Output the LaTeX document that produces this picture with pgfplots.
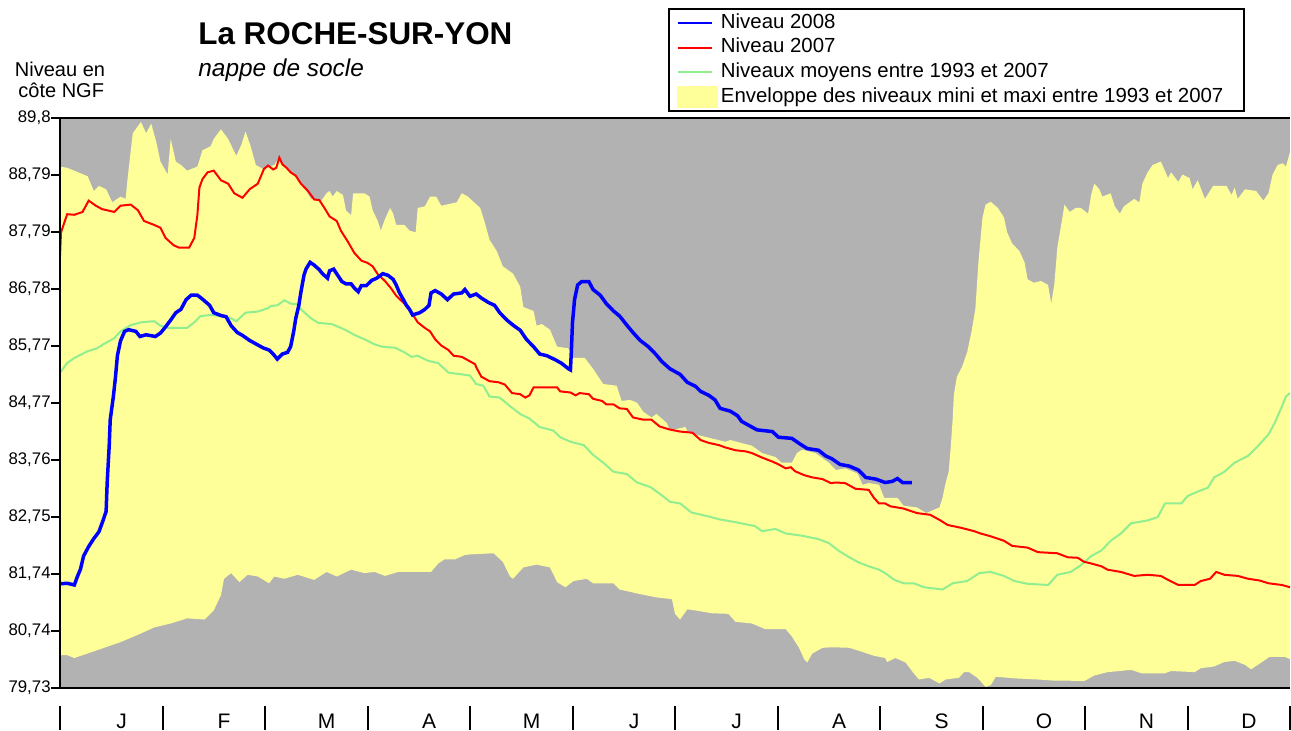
\documentclass[border=0pt]{standalone}
\usepackage{fontspec}
\setmainfont{Liberation Sans}
\usepackage{pgfplots}
\pgfplotsset{compat=1.18}
\usepgfplotslibrary{fillbetween}
\definecolor{fond}{RGB}{178,178,178}
\definecolor{jaune}{RGB}{255,255,153}
\definecolor{vert}{RGB}{144,238,144}

\begin{document}
\begin{tikzpicture}
\begin{axis}[
  scale only axis, width=615pt, height=285pt,
  xmin=0, xmax=12, ymin=79.73, ymax=89.8,
  axis x line*=box, axis y line*=left,
  axis line style={line width=1.25pt},
  axis background/.style={fill=fond},
  axis on top, clip=false,
  tick align=outside, major tick length=4.5pt,
  ytick={79.73,80.737,81.744,82.751,83.758,84.765,85.772,86.779,87.786,88.793,89.8},
  yticklabels={{79,73},{80,74},{81,74},{82,75},{83,76},{84,77},{85,77},{86,78},{87,79},{88,79},{89,8}},
  ytick style={line width=1pt, black},
  yticklabel style={font=\fontsize{8.4}{10}\selectfont, inner xsep=0pt},
  xtick={0.6,1.6,2.6,3.6,4.6,5.6,6.6,7.6,8.6,9.6,10.6,11.6},
  xticklabels={J,F,M,A,M,J,J,A,S,O,N,D},
  xtick style={draw=none},
  xticklabel style={font=\fontsize{10.5}{12}\selectfont, anchor=base, yshift=-16pt},
  legend cell align=left,
  legend style={at={(0.4943,1.0105)}, anchor=south west, draw=black, line width=1pt,
    fill=white, font=\fontsize{10.2}{12}\selectfont, inner xsep=4pt, inner ysep=1pt,
    row sep=0.3pt, nodes={inner sep=1.5pt, text height=7pt, text depth=2pt}},
]
\addlegendimage{blue, line width=1pt}
\addlegendentry{Niveau 2008}
\addlegendimage{red, line width=1pt}
\addlegendentry{Niveau 2007}
\addlegendimage{vert, line width=1pt}
\addlegendentry{Niveaux moyens entre 1993 et 2007}
\addlegendimage{legend image code/.code={\fill[jaune] (0pt,-5pt) rectangle (19.5pt,5pt);}}
\addlegendentry{\makebox[256pt][l]{Enveloppe des niveaux mini et maxi entre 1993 et 2007}}

% enveloppe maxi
\addplot[name path=hi, draw=none, forget plot] coordinates {
(0.00,88.94)(0.07,88.92)(0.27,88.77)(0.33,88.51)(0.38,88.60)(0.45,88.54)(0.51,88.31)(0.59,88.41)
(0.64,88.37)(0.66,88.74)(0.71,89.53)(0.79,89.73)(0.84,89.53)(0.89,89.70)(0.94,89.37)(0.98,89.03)
(1.05,88.80)(1.08,89.43)(1.13,89.03)(1.18,88.97)(1.24,88.87)(1.34,88.94)(1.39,89.23)(1.47,89.30)
(1.50,89.43)(1.57,89.60)(1.64,89.43)(1.72,89.13)(1.77,89.33)(1.81,89.56)(1.86,89.30)(1.91,88.97)
(1.98,88.90)(2.09,88.97)(2.14,89.10)(2.19,88.94)(2.32,88.74)(2.45,88.37)(2.55,88.34)(2.60,88.47)
(2.63,88.51)(2.66,88.41)(2.70,88.51)(2.76,88.44)(2.79,88.17)(2.84,88.08)(2.86,88.47)(2.97,88.47)
(3.02,88.41)(3.05,88.17)(3.10,87.98)(3.13,87.81)(3.17,88.01)(3.22,88.21)(3.25,88.11)(3.28,87.91)
(3.36,87.91)(3.41,87.81)(3.47,87.78)(3.49,88.21)(3.56,88.24)(3.61,88.41)(3.67,88.41)(3.72,88.25)
(3.77,88.27)(3.87,88.31)(3.92,88.47)(3.98,88.41)(4.10,88.21)(4.14,87.98)(4.19,87.65)(4.26,87.45)
(4.32,87.18)(4.42,87.05)(4.49,86.82)(4.52,86.46)(4.62,86.39)(4.65,86.13)(4.70,86.16)(4.78,86.06)
(4.85,85.76)(4.96,85.73)(5.01,85.56)(5.12,85.56)(5.20,85.37)(5.30,85.10)(5.43,85.07)(5.48,84.80)
(5.56,84.82)(5.63,84.77)(5.69,84.61)(5.77,84.51)(5.82,84.57)(5.92,84.41)(5.95,84.28)(6.10,84.34)
(6.13,84.24)(6.49,84.08)(6.54,84.11)(6.75,84.01)(6.85,83.88)(6.98,83.81)(7.04,83.71)(7.14,83.71)
(7.19,83.88)(7.24,83.94)(7.37,83.88)(7.50,83.71)(7.57,83.58)(7.66,83.61)(7.78,83.52)(7.83,83.32)
(7.89,83.35)(7.99,83.32)(8.04,83.09)(8.17,83.09)(8.23,82.95)(8.36,82.92)(8.45,82.82)(8.49,82.85)
(8.58,82.92)(8.61,83.09)(8.64,83.35)(8.67,83.55)(8.69,83.98)(8.71,84.51)(8.72,84.90)(8.75,85.23)
(8.80,85.40)(8.85,85.66)(8.89,86.00)(8.93,86.42)(8.96,87.25)(8.98,87.65)(9.00,88.04)(9.03,88.27)
(9.08,88.32)(9.15,88.21)(9.21,88.04)(9.24,87.78)(9.29,87.58)(9.36,87.45)(9.41,87.25)(9.44,86.95)
(9.50,86.89)(9.57,86.92)(9.64,86.85)(9.67,86.52)(9.70,86.85)(9.73,87.51)(9.77,87.94)(9.80,88.27)
(9.85,88.14)(9.91,88.21)(9.96,88.21)(10.03,88.11)(10.06,88.44)(10.09,88.64)(10.14,88.54)(10.17,88.41)
(10.25,88.47)(10.29,88.24)(10.34,88.11)(10.38,88.24)(10.48,88.37)(10.53,88.31)(10.56,88.64)(10.61,88.84)
(10.66,88.97)(10.74,89.03)(10.81,88.74)(10.84,88.84)(10.91,88.67)(10.95,88.80)(11.02,88.74)(11.05,88.54)
(11.10,88.70)(11.17,88.37)(11.25,88.60)(11.38,88.60)(11.43,88.44)(11.46,88.57)(11.49,88.37)(11.56,88.54)
(11.67,88.51)(11.74,88.34)(11.79,88.47)(11.83,88.80)(11.88,88.97)(11.93,89.00)(11.96,88.94)(12.00,89.20)
};
% enveloppe mini
\addplot[name path=lo, draw=none, forget plot] coordinates {
(0.00,80.31)(0.07,80.31)(0.14,80.26)(0.27,80.34)(0.43,80.44)(0.59,80.54)(0.76,80.67)(0.92,80.80)
(1.08,80.87)(1.24,80.96)(1.41,80.94)(1.50,81.10)(1.57,81.37)(1.60,81.66)(1.67,81.76)(1.75,81.60)
(1.83,81.73)(1.93,81.70)(2.04,81.58)(2.09,81.70)(2.19,81.66)(2.32,81.73)(2.48,81.64)(2.60,81.78)
(2.70,81.70)(2.84,81.82)(2.97,81.76)(3.07,81.78)(3.17,81.71)(3.30,81.78)(3.46,81.78)(3.62,81.78)
(3.69,81.93)(3.75,82.00)(3.85,82.00)(3.95,82.08)(4.00,82.09)(4.23,82.11)(4.32,81.96)(4.39,81.70)
(4.42,81.66)(4.52,81.86)(4.65,81.91)(4.78,81.86)(4.85,81.60)(4.93,81.51)(5.01,81.62)(5.14,81.66)
(5.20,81.58)(5.40,81.58)(5.46,81.47)(5.63,81.40)(5.82,81.33)(5.97,81.30)(6.00,81.04)(6.05,80.94)
(6.12,81.12)(6.20,81.10)(6.36,81.05)(6.52,81.04)(6.59,80.90)(6.75,80.87)(6.88,80.77)(7.08,80.77)
(7.14,80.64)(7.21,80.44)(7.26,80.24)(7.29,80.18)(7.34,80.34)(7.44,80.44)(7.53,80.45)(7.70,80.44)
(7.79,80.39)(7.94,80.30)(8.05,80.26)(8.07,80.19)(8.15,80.26)(8.25,80.18)(8.32,80.01)(8.38,79.88)
(8.48,79.91)(8.58,79.81)(8.64,79.88)(8.77,79.91)(8.82,80.01)(8.87,80.01)(8.95,79.91)(9.03,79.75)
(9.08,79.78)(9.13,79.93)(9.31,79.90)(9.54,79.88)(9.70,79.86)(9.83,79.86)(9.99,79.85)(10.09,79.95)
(10.22,80.01)(10.45,80.05)(10.55,79.99)(10.78,79.99)(10.84,80.03)(11.07,80.01)(11.13,80.08)(11.26,80.11)
(11.36,80.19)(11.46,80.21)(11.56,80.14)(11.62,80.06)(11.72,80.18)(11.80,80.28)(11.95,80.28)(12.00,80.24)
};
\addplot[jaune, forget plot] fill between[of=hi and lo];

% niveaux moyens 1993-2007
\addplot[vert, line width=1pt, forget plot] coordinates {
(0.00,85.30)(0.07,85.47)(0.14,85.56)(0.27,85.68)(0.36,85.73)(0.43,85.81)(0.53,85.91)(0.59,86.03)
(0.69,86.14)(0.79,86.19)(0.92,86.21)(0.98,86.13)(1.06,86.09)(1.24,86.09)(1.31,86.19)(1.37,86.30)
(1.47,86.32)(1.57,86.30)(1.67,86.26)(1.72,86.21)(1.81,86.36)(1.93,86.38)(2.03,86.44)(2.06,86.48)
(2.12,86.49)(2.19,86.58)(2.25,86.52)(2.32,86.51)(2.35,86.42)(2.45,86.26)(2.52,86.18)(2.65,86.16)
(2.78,86.06)(2.87,85.97)(2.97,85.89)(3.07,85.80)(3.14,85.76)(3.27,85.74)(3.36,85.66)(3.43,85.58)
(3.49,85.60)(3.59,85.51)(3.69,85.47)(3.79,85.30)(3.92,85.27)(4.00,85.25)(4.06,85.10)(4.13,85.07)
(4.19,84.88)(4.29,84.86)(4.39,84.71)(4.49,84.57)(4.58,84.49)(4.68,84.34)(4.81,84.28)(4.88,84.16)
(4.98,84.08)(5.11,84.02)(5.20,83.85)(5.30,83.71)(5.40,83.55)(5.53,83.51)(5.63,83.36)(5.76,83.28)
(5.86,83.15)(5.95,83.02)(6.05,82.99)(6.16,82.83)(6.33,82.76)(6.43,82.71)(6.59,82.66)(6.78,82.59)
(6.85,82.50)(6.98,82.54)(7.08,82.46)(7.24,82.42)(7.40,82.36)(7.50,82.29)(7.60,82.15)(7.70,82.04)
(7.79,81.95)(7.89,81.88)(7.99,81.82)(8.05,81.76)(8.14,81.64)(8.23,81.58)(8.33,81.58)(8.43,81.51)
(8.61,81.47)(8.71,81.58)(8.85,81.62)(8.97,81.76)(9.08,81.78)(9.21,81.71)(9.31,81.62)(9.44,81.57)
(9.64,81.55)(9.73,81.73)(9.86,81.78)(9.96,81.90)(10.06,82.06)(10.16,82.16)(10.25,82.33)(10.35,82.46)
(10.45,82.64)(10.61,82.69)(10.71,82.75)(10.78,82.99)(10.94,82.99)(11.00,83.12)(11.10,83.20)(11.20,83.27)
(11.26,83.45)(11.36,83.55)(11.46,83.71)(11.59,83.83)(11.69,84.01)(11.79,84.21)(11.85,84.41)(11.92,84.70)
(11.96,84.88)(12.00,84.94)
};

% niveau 2007
\addplot[red, line width=1pt, forget plot] coordinates {
(0.00,87.35)(0.01,87.78)(0.07,88.10)(0.14,88.09)(0.22,88.14)(0.28,88.34)(0.35,88.25)(0.41,88.19)
(0.53,88.14)(0.59,88.25)(0.69,88.27)(0.76,88.17)(0.82,87.98)(0.92,87.91)(0.98,87.86)(1.03,87.68)
(1.11,87.55)(1.16,87.51)(1.26,87.51)(1.31,87.68)(1.34,88.08)(1.36,88.57)(1.39,88.72)(1.44,88.84)
(1.50,88.87)(1.57,88.70)(1.64,88.64)(1.70,88.47)(1.78,88.39)(1.85,88.54)(1.93,88.64)(1.99,88.90)
(2.03,88.96)(2.08,88.89)(2.11,88.92)(2.14,89.10)(2.17,88.98)(2.21,88.92)(2.25,88.84)(2.30,88.78)
(2.35,88.64)(2.42,88.51)(2.48,88.36)(2.53,88.35)(2.58,88.21)(2.63,88.06)(2.70,87.98)(2.74,87.81)
(2.81,87.61)(2.87,87.42)(2.94,87.28)(3.00,87.24)(3.05,87.18)(3.10,87.04)(3.17,86.92)(3.23,86.79)
(3.28,86.66)(3.36,86.52)(3.43,86.36)(3.49,86.19)(3.56,86.09)(3.61,86.03)(3.66,85.89)(3.72,85.78)
(3.79,85.70)(3.84,85.60)(3.92,85.58)(3.98,85.52)(4.05,85.45)(4.06,85.40)(4.11,85.23)(4.19,85.15)
(4.28,85.13)(4.34,85.09)(4.41,84.94)(4.49,84.92)(4.54,84.86)(4.58,84.90)(4.62,85.04)(4.85,85.04)
(4.88,84.97)(4.98,84.95)(5.03,84.90)(5.07,84.94)(5.16,84.92)(5.20,84.84)(5.29,84.80)(5.33,84.74)
(5.40,84.74)(5.46,84.67)(5.53,84.66)(5.59,84.51)(5.69,84.47)(5.77,84.47)(5.85,84.35)(5.94,84.30)
(6.05,84.26)(6.17,84.24)(6.25,84.11)(6.33,84.06)(6.43,84.02)(6.49,83.98)(6.59,83.93)(6.69,83.91)
(6.75,83.88)(6.85,83.80)(6.95,83.73)(7.01,83.68)(7.08,83.61)(7.13,83.63)(7.17,83.56)(7.26,83.49)
(7.34,83.45)(7.44,83.42)(7.52,83.35)(7.57,83.36)(7.66,83.35)(7.76,83.25)(7.89,83.23)(7.94,83.09)
(7.99,82.99)(8.05,82.99)(8.10,82.94)(8.23,82.90)(8.36,82.82)(8.49,82.79)(8.58,82.70)(8.66,82.61)
(8.79,82.56)(8.92,82.50)(8.98,82.46)(9.08,82.41)(9.21,82.33)(9.29,82.24)(9.44,82.21)(9.54,82.13)
(9.73,82.11)(9.83,82.04)(9.93,82.03)(9.99,81.96)(10.06,81.93)(10.16,81.88)(10.22,81.82)(10.35,81.78)
(10.48,81.71)(10.61,81.73)(10.74,81.71)(10.81,81.64)(10.91,81.55)(11.07,81.55)(11.13,81.62)(11.22,81.66)
(11.28,81.78)(11.36,81.73)(11.49,81.71)(11.59,81.66)(11.70,81.63)(11.79,81.58)(11.92,81.55)(12.00,81.51)
};

% niveau 2008
\addplot[blue, line width=1.75pt, forget plot] coordinates {
(0.00,81.57)(0.07,81.58)(0.14,81.55)(0.17,81.70)(0.20,81.83)(0.23,82.06)(0.28,82.23)(0.33,82.37)
(0.38,82.49)(0.42,82.69)(0.45,82.85)(0.46,83.35)(0.48,84.01)(0.49,84.47)(0.52,84.87)(0.54,85.20)
(0.56,85.60)(0.59,85.86)(0.63,86.03)(0.67,86.06)(0.74,86.03)(0.78,85.94)(0.84,85.97)(0.93,85.94)
(0.98,86.00)(1.03,86.11)(1.08,86.23)(1.13,86.36)(1.18,86.42)(1.23,86.59)(1.28,86.67)(1.34,86.67)
(1.39,86.60)(1.46,86.49)(1.50,86.36)(1.57,86.31)(1.62,86.29)(1.67,86.13)(1.73,86.01)(1.78,85.96)
(1.85,85.87)(1.91,85.81)(1.98,85.74)(2.04,85.70)(2.08,85.63)(2.12,85.54)(2.17,85.63)(2.22,85.66)
(2.25,85.76)(2.28,86.03)(2.30,86.26)(2.33,86.49)(2.35,86.72)(2.38,87.02)(2.40,87.13)(2.44,87.25)
(2.48,87.20)(2.53,87.12)(2.56,87.05)(2.61,86.97)(2.63,87.10)(2.67,87.13)(2.71,87.02)(2.75,86.91)
(2.79,86.87)(2.84,86.87)(2.87,86.80)(2.91,86.73)(2.94,86.84)(2.99,86.84)(3.04,86.93)(3.09,86.97)
(3.15,87.05)(3.20,87.02)(3.25,86.95)(3.28,86.85)(3.31,86.72)(3.35,86.59)(3.38,86.49)(3.41,86.42)
(3.44,86.32)(3.51,86.36)(3.56,86.42)(3.60,86.49)(3.62,86.71)(3.66,86.75)(3.72,86.69)(3.78,86.59)
(3.84,86.69)(3.92,86.71)(3.95,86.77)(4.00,86.65)(4.06,86.69)(4.11,86.62)(4.18,86.54)(4.24,86.49)
(4.29,86.36)(4.36,86.23)(4.42,86.14)(4.49,86.05)(4.55,85.89)(4.62,85.76)(4.68,85.63)(4.75,85.60)
(4.83,85.53)(4.89,85.47)(4.96,85.37)(4.98,85.35)(4.99,85.73)(5.00,86.19)(5.02,86.59)(5.05,86.85)
(5.09,86.91)(5.16,86.91)(5.20,86.77)(5.27,86.67)(5.33,86.52)(5.40,86.39)(5.46,86.30)(5.53,86.14)
(5.59,86.01)(5.66,85.87)(5.74,85.76)(5.81,85.63)(5.87,85.50)(5.95,85.37)(6.05,85.27)(6.12,85.13)
(6.20,85.06)(6.25,84.97)(6.33,84.90)(6.39,84.82)(6.44,84.67)(6.54,84.62)(6.61,84.54)(6.65,84.44)
(6.74,84.35)(6.80,84.29)(6.95,84.26)(7.01,84.16)(7.14,84.14)(7.22,84.04)(7.29,83.96)(7.40,83.93)
(7.47,83.83)(7.53,83.78)(7.61,83.68)(7.70,83.65)(7.79,83.58)(7.86,83.45)(7.96,83.42)(8.05,83.36)
(8.12,83.38)(8.17,83.43)(8.22,83.36)(8.31,83.36)
};

% separateurs de mois
\pgfplotsinvokeforeach{0,...,12}{
  \draw[line width=1pt] ([yshift=-9pt]axis cs:#1,79.73) -- ([yshift=-21pt]axis cs:#1,79.73);
}

\node[anchor=base west, inner sep=0pt, font=\bfseries\fontsize{15.7}{18}\selectfont] at (rel axis cs:0.1122,1.1281) {La ROCHE-SUR-YON};
\node[anchor=base west, inner sep=0pt, font=\itshape\fontsize{12.2}{14}\selectfont] at (rel axis cs:0.1122,1.0719) {nappe de socle};
\node[anchor=base, font=\fontsize{10}{12}\selectfont] at (rel axis cs:0,1.0719) {Niveau en};
\node[anchor=base, font=\fontsize{10}{12}\selectfont] at (rel axis cs:0.001,1.0351) {côte NGF};

\coordinate (bbBL) at (rel axis cs:-0.04878,-0.07544);
\coordinate (bbTR) at (rel axis cs:1.000813,1.20702);
\end{axis}
\pgfresetboundingbox
\path (bbBL) rectangle (bbTR);
\end{tikzpicture}
\end{document}
